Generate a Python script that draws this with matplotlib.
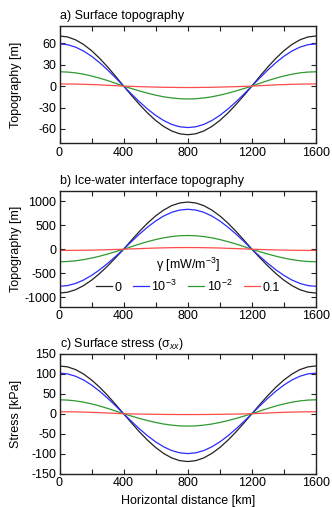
import matplotlib
matplotlib.use("Agg")
import matplotlib.pyplot as plt
from matplotlib.ticker import MultipleLocator

plt.rcParams['font.family'] = ['Liberation Sans', 'DejaVu Sans']
plt.rcParams['mathtext.fontset'] = 'custom'
plt.rcParams['mathtext.rm'] = 'Liberation Sans'
plt.rcParams['mathtext.it'] = 'Liberation Sans:italic'
plt.rcParams['axes.unicode_minus'] = False

# ---- data ----
distance_km = [0, 50, 100, 150, 200, 250, 300, 350, 400, 450, 500, 550, 600, 650, 700, 750, 800,
               850, 900, 950, 1000, 1050, 1100, 1150, 1200, 1250, 1300, 1350, 1400, 1450, 1500, 1550, 1600]
gamma_labels = ['0', '10$^{-3}$', '10$^{-2}$', '0.1']

surf_topo_0 = [70, 68.7, 64.7, 58.2, 49.5, 38.9, 26.8, 13.7, 0, -13.3, -26.0, -37.8, -48.1, -56.5, -62.8, -66.7, -68,
               -66.7, -62.8, -56.5, -48.1, -37.8, -26.0, -13.3, 0, 13.7, 26.8, 38.9, 49.5, 58.2, 64.7, 68.7, 70]
surf_topo_1e3 = [59, 57.9, 54.5, 49.0, 41.7, 32.8, 22.6, 11.5, 0, -11.3, -22.2, -32.2, -41.0, -48.2, -53.6, -56.9, -58,
                 -56.9, -53.6, -48.2, -41.0, -32.2, -22.2, -11.3, 0, 11.5, 22.6, 32.8, 41.7, 49.0, 54.5, 57.9, 59]
surf_topo_1e2 = [20, 19.6, 18.5, 16.6, 14.1, 11.1, 7.7, 3.9, 0, -3.5, -6.9, -10.0, -12.7, -15.0, -16.6, -17.7, -18,
                 -17.7, -16.6, -15.0, -12.7, -10.0, -6.9, -3.5, 0, 3.9, 7.7, 11.1, 14.1, 16.6, 18.5, 19.6, 20]
surf_topo_1e1 = [3, 2.9, 2.8, 2.5, 2.1, 1.7, 1.1, 0.6, 0, -0.4, -0.8, -1.1, -1.4, -1.7, -1.8, -2.0, -2,
                 -2.0, -1.8, -1.7, -1.4, -1.1, -0.8, -0.4, 0, 0.6, 1.1, 1.7, 2.1, 2.5, 2.8, 2.9, 3]

base_topo_0 = [-910, -893, -841, -756, -643, -506, -349, -177, 0, 191, 375, 545, 693, 814, 906, 961, 980,
               961, 906, 814, 693, 545, 375, 191, 0, -177, -349, -506, -643, -756, -841, -893, -910]
base_topo_1e3 = [-770, -755, -711, -640, -544, -428, -295, -150, 0, 162, 318, 461, 587, 690, 767, 814, 830,
                 814, 767, 690, 587, 461, 318, 162, 0, -150, -295, -428, -544, -640, -711, -755, -770]
base_topo_1e2 = [-260, -255, -240, -216, -184, -145, -100, -51, 0, 56, 109, 158, 201, 237, 263, 280, 285,
                 280, 263, 237, 201, 158, 109, 56, 0, -51, -100, -145, -184, -216, -240, -255, -260]
base_topo_1e1 = [-25, -24.5, -23, -21, -18, -14, -10, -5, 0, 7, 13, 19, 25, 29, 32, 34, 35,
                 34, 32, 29, 25, 19, 13, 7, 0, -5, -10, -14, -18, -21, -23, -24.5, -25]

stress_0 = [120, 117.7, 110.9, 99.7, 84.8, 66.7, 46.0, 23.4, 0, -23.4, -46.0, -66.7, -84.8, -99.7, -110.9, -117.7, -120,
            -117.7, -110.9, -99.7, -84.8, -66.7, -46.0, -23.4, 0, 23.4, 46.0, 66.7, 84.8, 99.7, 110.9, 117.7, 120]
stress_1e3 = [102, 100.1, 94.2, 84.8, 72.1, 56.7, 39.1, 19.9, 0, -19.5, -38.3, -55.6, -70.7, -83.1, -92.4, -98.1, -100,
              -98.1, -92.4, -83.1, -70.7, -55.6, -38.3, -19.5, 0, 19.9, 39.1, 56.7, 72.1, 84.8, 94.2, 100.1, 102]
stress_1e2 = [35, 34.3, 32.3, 29.1, 24.7, 19.5, 13.4, 6.8, 0, -6.0, -11.9, -17.2, -21.9, -25.8, -28.6, -30.4, -31,
              -30.4, -28.6, -25.8, -21.9, -17.2, -11.9, -6.0, 0, 6.8, 13.4, 19.5, 24.7, 29.1, 32.3, 34.3, 35]
stress_1e1 = [5, 4.9, 4.6, 4.2, 3.5, 2.8, 1.9, 1.0, 0, -0.4, -0.8, -1.1, -1.4, -1.7, -1.8, -2.0, -2,
              -2.0, -1.8, -1.7, -1.4, -1.1, -0.8, -0.4, 0, 1.0, 1.9, 2.8, 3.5, 4.2, 4.6, 4.9, 5]

colors = ['#222222', '#2b2bff', '#2e9a2e', '#ff4a4a']

W, H = 332, 507
fig = plt.figure(figsize=(W / 100, H / 100), dpi=100)

LEFT, RIGHT = 59.5, 316

def axrect(top, bottom, left=LEFT, right=RIGHT):
    return [left / W, 1 - bottom / H, (right - left) / W, (bottom - top) / H]

fs = 9
panels = [
    (axrect(26, 143.3), [surf_topo_0, surf_topo_1e3, surf_topo_1e2, surf_topo_1e1],
     (-80, 84), [-60, -30, 0, 30, 60], 'a) Surface topography', 'Topography [m]'),
    (axrect(190.5, 307), [base_topo_0, base_topo_1e3, base_topo_1e2, base_topo_1e1],
     (-1200, 1220), [-1000, -500, 0, 500, 1000], 'b) Ice-water interface topography', 'Topography [m]'),
    (axrect(354, 473.5), [stress_0, stress_1e3, stress_1e2, stress_1e1],
     (-150, 150), [-150, -100, -50, 0, 50, 100, 150], r'c) Surface stress ($\mathrm{\sigma}_{xx}$)', 'Stress [kPa]'),
]

axes = []
for rect, series, ylim, yticks, title, ylabel in panels:
    ax = fig.add_axes(rect)
    lines = []
    for s, c, lab in zip(series, colors, gamma_labels):
        l, = ax.plot(distance_km, s, color=c, lw=0.9, label=lab)
        lines.append(l)
    ax.set_xlim(0, 1600)
    ax.set_ylim(*ylim)
    ax.set_xticks([0, 400, 800, 1200, 1600])
    ax.xaxis.set_minor_locator(MultipleLocator(200))
    ax.set_yticks(yticks)
    ax.tick_params(which='both', direction='in', top=True, right=True, labelsize=fs,
                   length=3.5, width=0.8, pad=2.5, colors='#222222', labelcolor='black')
    for sp in ax.spines.values():
        sp.set_linewidth(1.0)
        sp.set_color('#222222')
    ax.set_title(title, loc='left', fontsize=fs, pad=5)
    ax.set_ylabel(ylabel, fontsize=fs)
    ax.yaxis.set_label_coords((21.5 - LEFT) / (RIGHT - LEFT), 0.5)
    axes.append((ax, lines))

axes[2][0].set_xlabel('Horizontal distance [km]', fontsize=fs, labelpad=4)

axb, lines_b = axes[1]
leg = axb.legend(lines_b, gamma_labels, loc='lower center', bbox_to_anchor=(0.5, 0.05),
                 ncol=4, frameon=False, fontsize=fs, title='γ [mW/m$^{-3}$]',
                 title_fontsize=fs, handlelength=1.3, handletextpad=0.2, columnspacing=0.9,
                 borderpad=0.1, labelspacing=0.2)
leg._legend_box.sep = 3

fig.savefig('out.png', dpi=100)
